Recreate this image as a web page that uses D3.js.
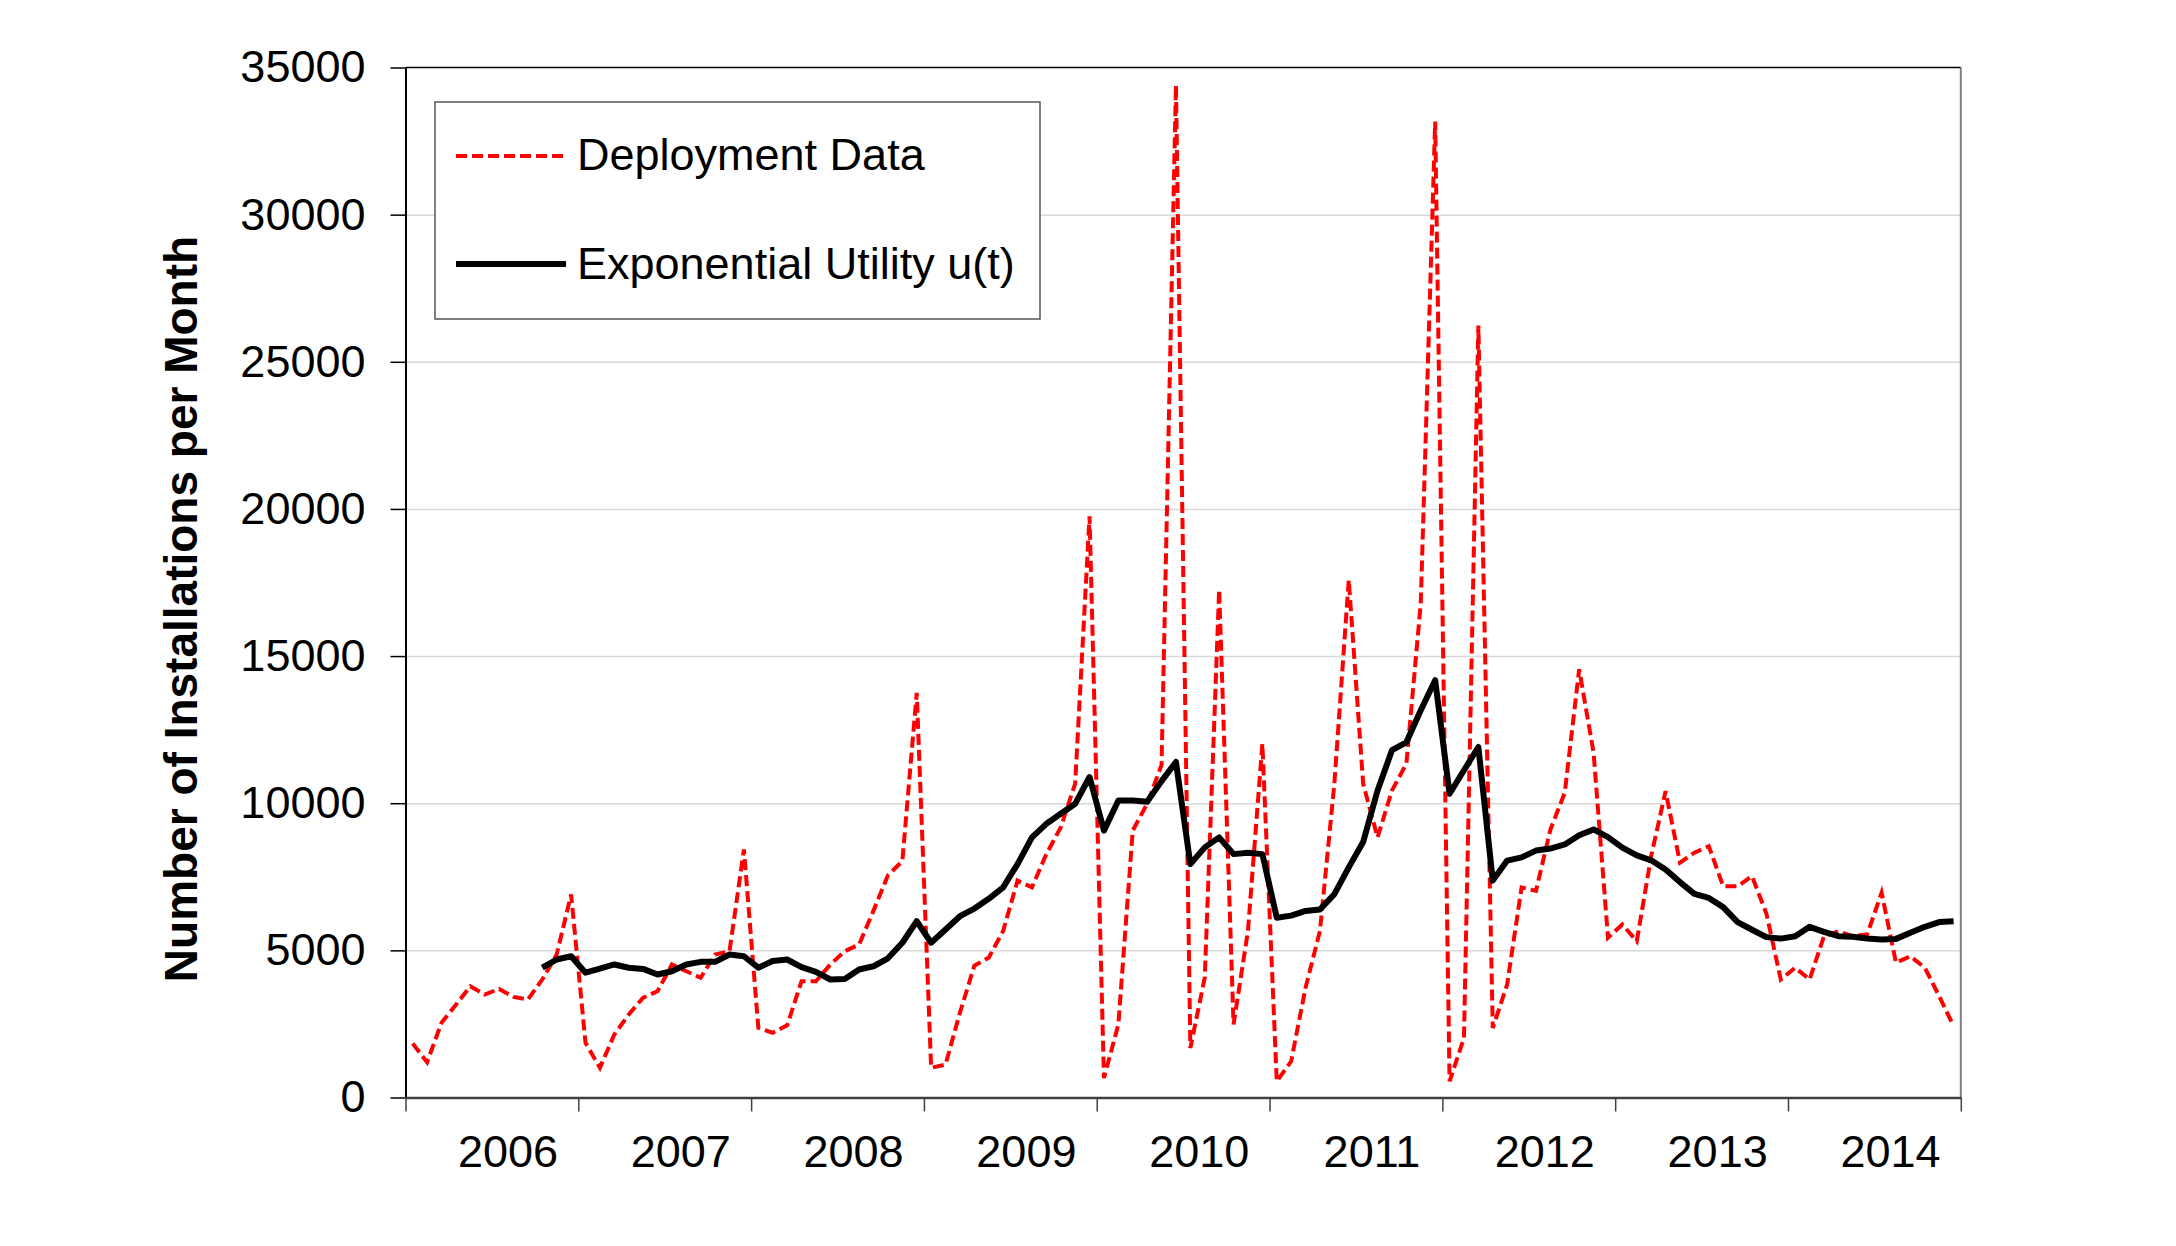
<!DOCTYPE html>
<html>
<head>
<meta charset="utf-8">
<script src="https://cdn.jsdelivr.net/npm/d3@7"></script>
<style>
  body { margin: 0; background: #fff; }
  text { font-family: "Liberation Sans", Arial, sans-serif; }
</style>
</head>
<body>
<div id="chart"></div>
<script>
// Monthly values, Jan 2006 .. Dec 2014
var yearLabels = ['2006', '2007', '2008', '2009', '2010', '2011', '2012', '2013', '2014'];
var yTicks = [0, 5000, 10000, 15000, 20000, 25000, 30000, 35000];

var deployment = [
  1835, 1200, 2540, 3150, 3780, 3500, 3690, 3420, 3330, 4010, 4860, 6900,
  1860, 1010, 2140, 2820, 3390, 3610, 4520, 4290, 4070, 4860, 4970, 8430,
  2370, 2200, 2450, 3950, 3950, 4520, 4970, 5200, 6350, 7550, 8030, 13750,
  1010, 1120, 2880, 4480, 4750, 5660, 7370, 7140, 8270, 9180, 10660, 19750,
  660, 2480, 9070, 9980, 11300, 34400, 1680, 4070, 17250, 2480, 5660, 12020,
  550, 1230, 3730, 5660, 10660, 17590, 10660, 8840, 10430, 11340, 16800, 33160,
  550, 2020, 26230, 2360, 3840, 7140, 7020, 9100, 10360, 14550, 11720, 5430,
  5880, 5310, 8200, 10410, 7980, 8320, 8540, 7180, 7180, 7520, 6250, 4010,
  4410, 4010, 5480, 5650, 5480, 5540, 6960, 4580, 4800, 4410, 3440, 2430
];

// u(t) starts at Oct 2006 (month index 9)
var utilityStart = 9;
var utility = [
  4410, 4690, 4800,
  4240, 4380, 4520, 4410, 4370, 4180, 4290, 4520, 4610, 4610, 4860, 4800,
  4410, 4640, 4690, 4430, 4270, 4010, 4030, 4350, 4460, 4730, 5260, 5990,
  5260, 5710, 6160, 6420, 6750, 7140, 7930, 8840, 9300, 9640, 9980, 10890,
  9070, 10090, 10090, 10050, 10750, 11400, 7930, 8500, 8840, 8270, 8320, 8270,
  6110, 6180, 6340, 6390, 6910, 7820, 8680, 10430, 11800, 12070, 13160, 14180,
  10320, 11120, 11910, 7370, 8050, 8160, 8390, 8460, 8600, 8910, 9110, 8850,
  8490, 8230, 8060, 7750, 7320, 6920, 6780, 6470, 5960, 5700, 5450, 5400,
  5480, 5800, 5630, 5480, 5460, 5400, 5370, 5390, 5600, 5800, 5960, 5990
];

var width = 2176, height = 1246;
// plot area in page pixels
var plotLeft = 405.5, plotRight = 1960.8, plotTop = 67.5, plotBottom = 1097.5;
var nMonths = yearLabels.length * 12;

var svg = d3.select('#chart').append('svg')
            .attr('width', width)
            .attr('height', height)
            .style('background', '#fff');

var x = d3.scaleLinear().domain([0, nMonths]).range([plotLeft, plotRight]);
var y = d3.scaleLinear().domain([0, 35000]).range([plotBottom, plotTop]);

// Gridlines
svg.append('g')
   .attr('transform', `translate(${plotLeft},0)`)
   .call(d3.axisLeft(y).tickValues(yTicks.slice(1, -1)).tickSize(-(plotRight - plotLeft)).tickFormat(''))
   .call(function(g) {
     g.select('.domain').remove();
     g.selectAll('line').attr('stroke', '#d9d9d9').attr('stroke-width', 1.5);
   });

// Plot frame, top and right
svg.append('line')
   .attr('x1', plotLeft).attr('x2', plotRight).attr('y1', plotTop).attr('y2', plotTop)
   .attr('stroke', '#000').attr('stroke-width', 1.5);
svg.append('line')
   .attr('x1', plotRight).attr('x2', plotRight).attr('y1', plotTop).attr('y2', plotBottom)
   .attr('stroke', '#808080').attr('stroke-width', 2);

// Y axis
svg.append('g')
   .attr('transform', `translate(${plotLeft},0)`)
   .call(d3.axisLeft(y).tickValues(yTicks).tickSize(15).tickSizeOuter(0).tickPadding(25).tickFormat(d3.format('d')))
   .call(function(g) {
     g.select('.domain').attr('stroke', '#000').attr('stroke-width', 2);
     g.selectAll('line').attr('stroke', '#000').attr('stroke-width', 1.5);
     g.selectAll('text').attr('font-size', 45).attr('fill', '#000')
      .attr('font-family', '"Liberation Sans", Arial, sans-serif');
   });

// X axis ticks at year boundaries
svg.append('g')
   .attr('transform', `translate(0,${plotBottom})`)
   .call(d3.axisBottom(x).tickValues(d3.range(0, nMonths + 1, 12)).tickSize(14).tickSizeOuter(0).tickFormat(''))
   .call(function(g) {
     g.select('.domain').attr('stroke', '#404040').attr('stroke-width', 2.5);
     g.selectAll('line').attr('stroke', '#404040').attr('stroke-width', 1.5);
   });

// Year labels
svg.append('g')
   .attr('transform', `translate(0,${plotBottom})`)
   .call(d3.axisBottom(x)
           .tickValues(yearLabels.map(function(d, i) { return i * 12 + 7.08; }))
           .tickSize(0).tickPadding(38)
           .tickFormat(function(d, i) { return yearLabels[i]; }))
   .call(function(g) {
     g.select('.domain').remove();
     g.selectAll('text').attr('font-size', 45).attr('fill', '#000')
      .attr('font-family', '"Liberation Sans", Arial, sans-serif');
   });

// Y title
svg.append('text')
   .text('Number of Installations per Month')
   .attr('transform', 'translate(197,609) rotate(-90)')
   .attr('text-anchor', 'middle')
   .attr('font-size', 46)
   .attr('font-weight', 'bold')
   .attr('fill', '#000');

// Lines
var redLine = d3.line()
  .x(function(d, i) { return x(i + 0.5); })
  .y(function(d) { return y(d); });

var blackLine = d3.line()
  .x(function(d, i) { return x(i + utilityStart + 0.5); })
  .y(function(d) { return y(d); });

svg.append('path')
   .datum(deployment)
   .attr('d', redLine)
   .attr('fill', 'none')
   .attr('stroke', '#ff0000')
   .attr('stroke-width', 4)
   .attr('stroke-dasharray', '11,5');

svg.append('path')
   .datum(utility)
   .attr('d', blackLine)
   .attr('fill', 'none')
   .attr('stroke', '#000')
   .attr('stroke-width', 6)
   .attr('stroke-linejoin', 'round');

// Legend
var legend = svg.append('g');
legend.append('rect')
      .attr('x', 435).attr('y', 102)
      .attr('width', 605).attr('height', 217)
      .attr('fill', '#fff')
      .attr('stroke', '#555').attr('stroke-width', 1.5);
legend.append('line')
      .attr('x1', 456).attr('x2', 566).attr('y1', 156).attr('y2', 156)
      .attr('stroke', '#ff0000').attr('stroke-width', 4)
      .attr('stroke-dasharray', '11,5');
legend.append('text')
      .text('Deployment Data')
      .attr('x', 577).attr('y', 170)
      .attr('font-size', 45).attr('fill', '#000');
legend.append('line')
      .attr('x1', 456).attr('x2', 566).attr('y1', 264).attr('y2', 264)
      .attr('stroke', '#000').attr('stroke-width', 6);
legend.append('text')
      .text('Exponential Utility u(t)')
      .attr('x', 577).attr('y', 279)
      .attr('font-size', 45).attr('fill', '#000');
</script>
</body>
</html>
